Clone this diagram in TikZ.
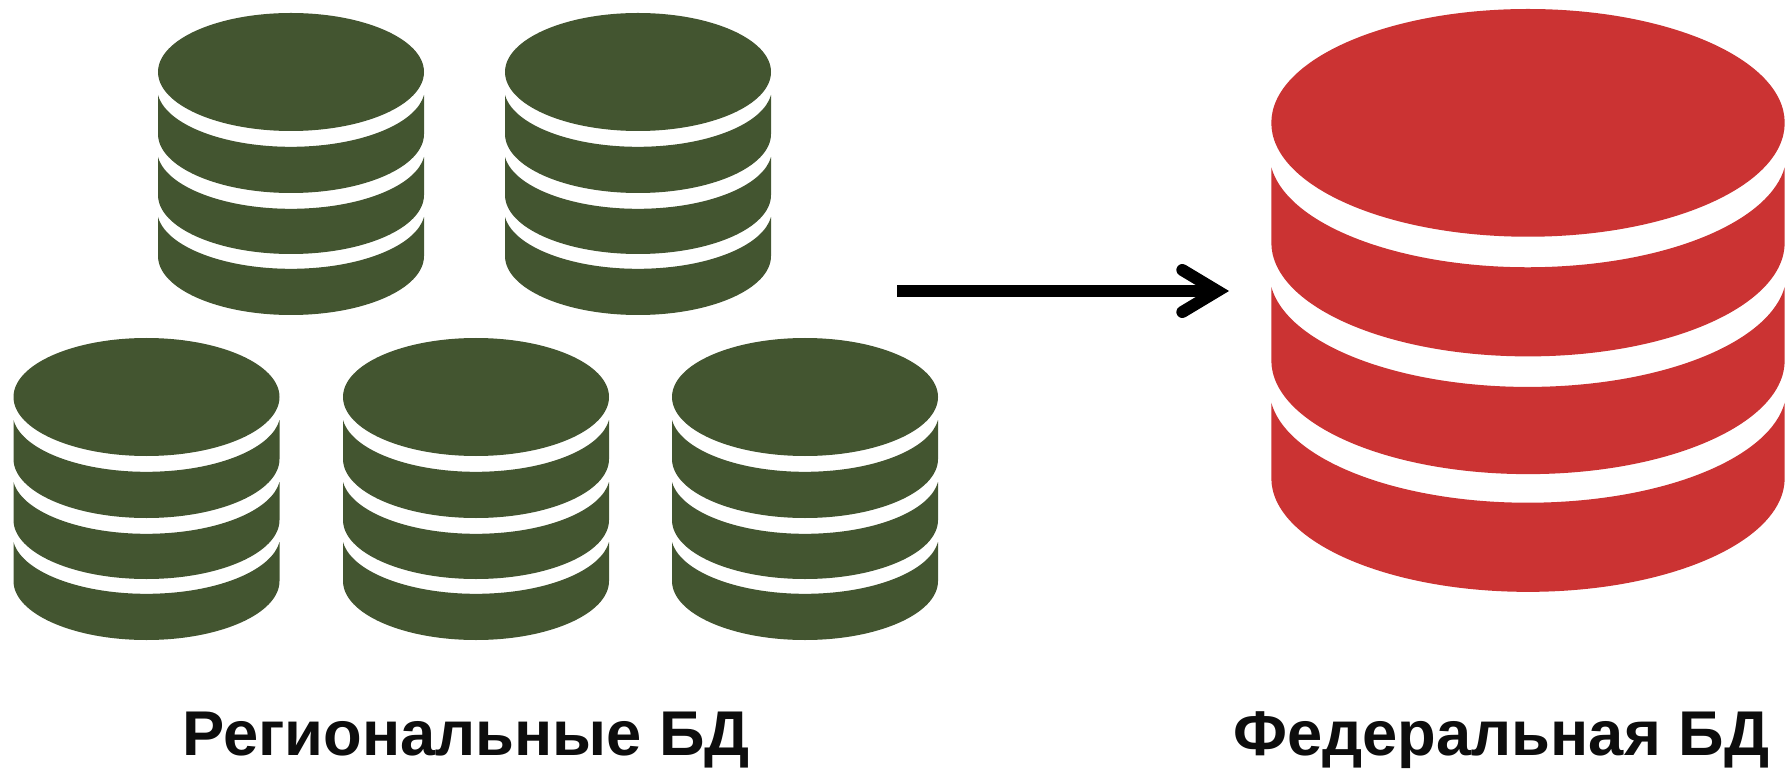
\documentclass[tikz,border=0pt]{standalone}
\usepackage{fontspec}
\usepackage{xcolor}
\usetikzlibrary{arrows.meta, positioning}
\setmainfont{Liberation Sans}

\definecolor{regiongreen}{HTML}{435530}
\definecolor{federalred}{HTML}{CB3333}
\definecolor{labelblack}{HTML}{0D0D0D}

\tikzset{
    dbicon/.pic={
        \fill[pic actions] (0,-59) ellipse [x radius=133, y radius=59];
        \foreach \side/\upper/\lower in {82/75/121, 144/137/182, 204/199/243} {
            \fill[pic actions] (-133,-\side) arc [start angle=187, end angle=353, x radius=134, y radius=59]
                -- (133,-\lower) arc [start angle=360, end angle=180, x radius=133, y radius=59] -- cycle;
        }
    },
    dblabel/.style={inner sep=0, anchor=base west, text=labelblack,
        font=\fontsize{36}{40}\selectfont\bfseries}
}

\begin{document}
\begin{tikzpicture}[x=0.02cm, y=0.02cm]
    \useasboundingbox (0,0) rectangle (1787,768);

    % Regional databases
    \pic[fill=regiongreen] (regionA) at (291,755) {dbicon};
    \pic[fill=regiongreen] (regionB) at (638,755) {dbicon};
    \pic[fill=regiongreen] (regionC) at (146.5,430) {dbicon};
    \pic[fill=regiongreen] (regionD) at (476,430) {dbicon};
    \pic[fill=regiongreen] (regionE) at (805,430) {dbicon};

    % Federal database
    \pic[fill=federalred, scale=1.93] (federal) at (1528,759) {dbicon};

    % Arrow
    \coordinate (arrowstart) at (897,477);
    \coordinate (arrowend) at (1229,477);
    \draw[line width=0.24cm, -{Straight Barb[length=0.7cm, width=0.84cm, line width=0.24cm, line cap=round, line join=miter]}] (arrowstart) -- (arrowend);

    % Labels
    \node[dblabel] (regionlabel) at (182,13) {Региональные БД};
    \node[dblabel] (federallabel) at (1233,13) {Федеральная БД};
\end{tikzpicture}
\end{document}
